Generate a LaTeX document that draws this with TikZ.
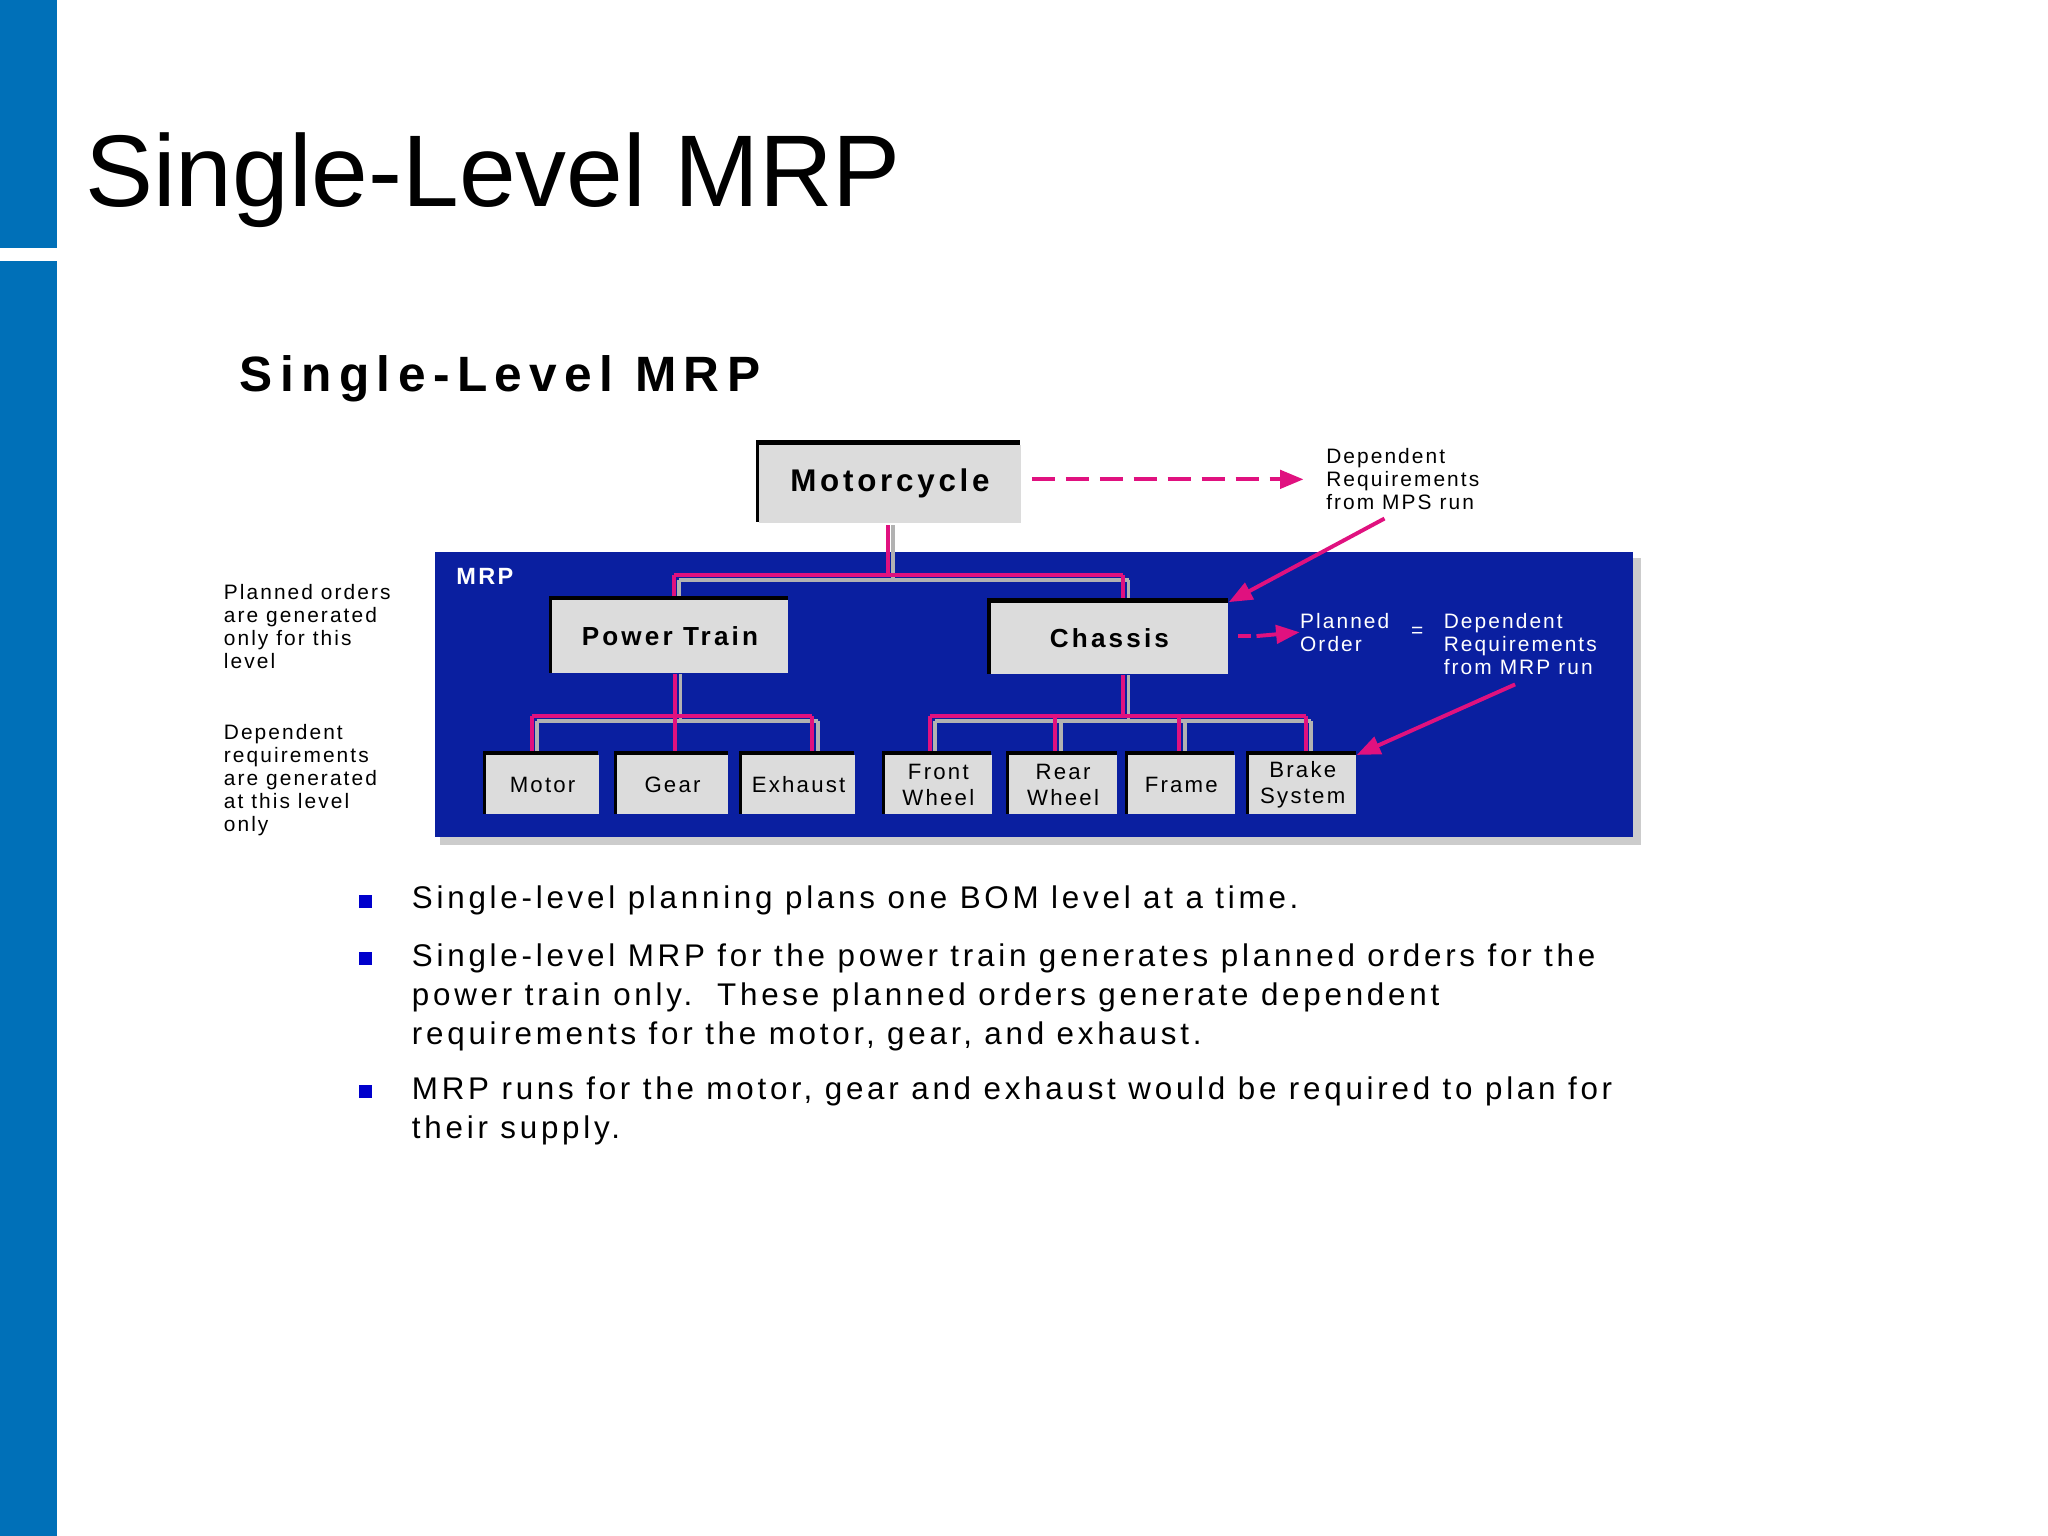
\documentclass[tikz,border=0pt]{standalone}
\usepackage{fontspec}
\setmainfont{Liberation Sans}
\usetikzlibrary{arrows.meta}
\definecolor{barblue}{HTML}{0070B8}
\definecolor{panel}{HTML}{0A1FA0}
\definecolor{mag}{HTML}{E0117F}
\definecolor{boxgray}{HTML}{DCDCDC}
\tikzset{
  box/.style={draw=none,fill=boxgray,inner sep=0pt},
  leaf/.style={fill=boxgray,inner sep=0pt},
  wire/.style={mag,line width=1.5pt},
  shadow/.style={gray!60,line width=1.5pt},
  wtxt/.style={text=white,align=left,inner sep=0pt,font=\fontsize{8}{8.8}\selectfont\addfontfeatures{LetterSpace=10}},
  btxt/.style={text=black,align=left,inner sep=0pt,font=\fontsize{8}{8.8}\selectfont\addfontfeatures{LetterSpace=10}},
  bul/.style={anchor=north west,align=left,inner sep=0pt,font=\fontsize{12}{15}\selectfont\addfontfeatures{LetterSpace=12}},
  arr/.style={mag,line width=1.5pt,-{Triangle[length=9pt,width=7pt]}}
}
\newcommand{\mrpbox}[6]{%
  \fill[black] (#1-2,#2-3) rectangle (#3,#4);
  \node[#6,minimum width={(#3-#1)*0.5pt},minimum height={(#4-#2)*0.5pt},anchor=north west] (#5) at (#1,#2) {};
}
\begin{document}
\begin{tikzpicture}[x=0.5pt,y=-0.5pt]
\useasboundingbox (0,0) rectangle (1568,1176);
\fill[white] (0,0) rectangle (1568,1176);
\fill[barblue] (0,0) rectangle (44,190);
\fill[barblue] (0,200) rectangle (44,1176);
\node[anchor=base west,inner sep=0pt,font=\fontsize{39}{44}\selectfont] (title) at (65,158) {Single-Level MRP};
\node[anchor=base west,inner sep=0pt,font=\fontsize{19}{22}\selectfont\bfseries\addfontfeatures{LetterSpace=15}] (sub) at (183,300) {Single-Level MRP};
% panel
\fill[gray!40] (337,427) rectangle (1256,647);
\fill[panel] (333,423) rectangle (1250,641);
\node[anchor=north west,inner sep=0pt,text=white,font=\fontsize{9}{10}\selectfont\bfseries\addfontfeatures{LetterSpace=10}] (mrp) at (349,435) {MRP};
\mrpbox{581}{340}{781}{400}{moto}{box}
\node[font=\fontsize{12}{13}\selectfont\bfseries\addfontfeatures{LetterSpace=12}] at (moto) {Motorcycle};
% connectors
\draw[shadow] (684,402)--(684,444) (520,444)--(864,444) (520,444)--(520,460) (864,444)--(864,462);
\draw[wire] (680,402)--(680,440) (516,440)--(860,440) (516,440)--(516,460) (860,440)--(860,462);
\draw[shadow] (521,516)--(521,552) (411,552)--(626,552) (411,552)--(411,578) (626,552)--(626,578)
  (864,517)--(864,552) (716,552)--(1004,552) (716,552)--(716,578) (812,552)--(812,578) (907,552)--(907,578) (1004,552)--(1004,578);
\draw[wire] (517,516)--(517,578) (407,548)--(622,548) (407,548)--(407,578) (622,548)--(622,578)
  (860,517)--(860,548) (712,548)--(1000,548) (712,548)--(712,578) (808,548)--(808,578) (903,548)--(903,578) (1000,548)--(1000,578);
\mrpbox{422}{459}{603}{515}{pt}{box}
\node[font=\fontsize{10}{11}\selectfont\bfseries\addfontfeatures{LetterSpace=12}] at (pt) {Power Train};
\mrpbox{758}{461}{940}{516}{ch}{box}
\node[font=\fontsize{10}{11}\selectfont\bfseries\addfontfeatures{LetterSpace=12}] at (ch) {Chassis};
\mrpbox{372}{578}{458}{623}{m}{leaf}
\mrpbox{472}{578}{557}{623}{g}{leaf}
\mrpbox{568}{578}{654}{623}{e}{leaf}
\mrpbox{677}{578}{759}{623}{fw}{leaf}
\mrpbox{772}{578}{855}{623}{rw}{leaf}
\mrpbox{863}{578}{945}{623}{fr}{leaf}
\mrpbox{956}{578}{1038}{623}{bs}{leaf}
\foreach \n/\t in {m/Motor,g/Gear,e/Exhaust,fw/Front\\Wheel,rw/Rear\\Wheel,fr/Frame,bs/Brake\\System}
  \node[align=center,inner sep=0pt,font=\fontsize{8.5}{10}\selectfont\addfontfeatures{LetterSpace=10}] at (\n) {\t};
% annotations
\node[btxt,anchor=north west] (dmps) at (1015,343) {Dependent\\Requirements\\from MPS run};
\coordinate (dmpsL) at (998,367);
\coordinate (motoR) at (790,367);
\draw[arr,dash pattern=on 9pt off 4pt] (motoR) -- (dmpsL);
\draw[arr] (1060,397) -- (ch.north east);
\node[wtxt,anchor=north west] (po) at (995,469) {Planned\\Order};
\node[text=white,inner sep=0pt,font=\fontsize{8}{9}\selectfont] (eq) at (1085,484) {=};
\node[wtxt,anchor=north west] (dmrp) at (1105,469) {Dependent\\Requirements\\from MRP run};
\draw[mag,line width=1.5pt] (948,487)--(958,487);
\draw[arr] (962,487) -- (po.west);
\draw[arr] (1160,524) -- (bs.north east);
\node[btxt,anchor=north west] (l1) at (171,447) {Planned orders\\are generated\\only for this\\level};
\node[btxt,anchor=north west] (l2) at (171,554) {Dependent\\requirements\\are generated\\at this level\\only};
% bullets
\foreach \y in {690,734,836} \fill[blue!80!black] (275,\y-5) rectangle (285,\y+5);
\node[bul] (b1) at (315,678) {Single-level planning plans one BOM level at a time.};
\node[bul] (b2) at (315,722) {Single-level MRP for the power train generates planned orders for the\\power train only.\ \ These planned orders generate dependent\\requirements for the motor, gear, and exhaust.};
\node[bul] (b3) at (315,824) {MRP runs for the motor, gear and exhaust would be required to plan for\\their supply.};
\end{tikzpicture}
\end{document}
